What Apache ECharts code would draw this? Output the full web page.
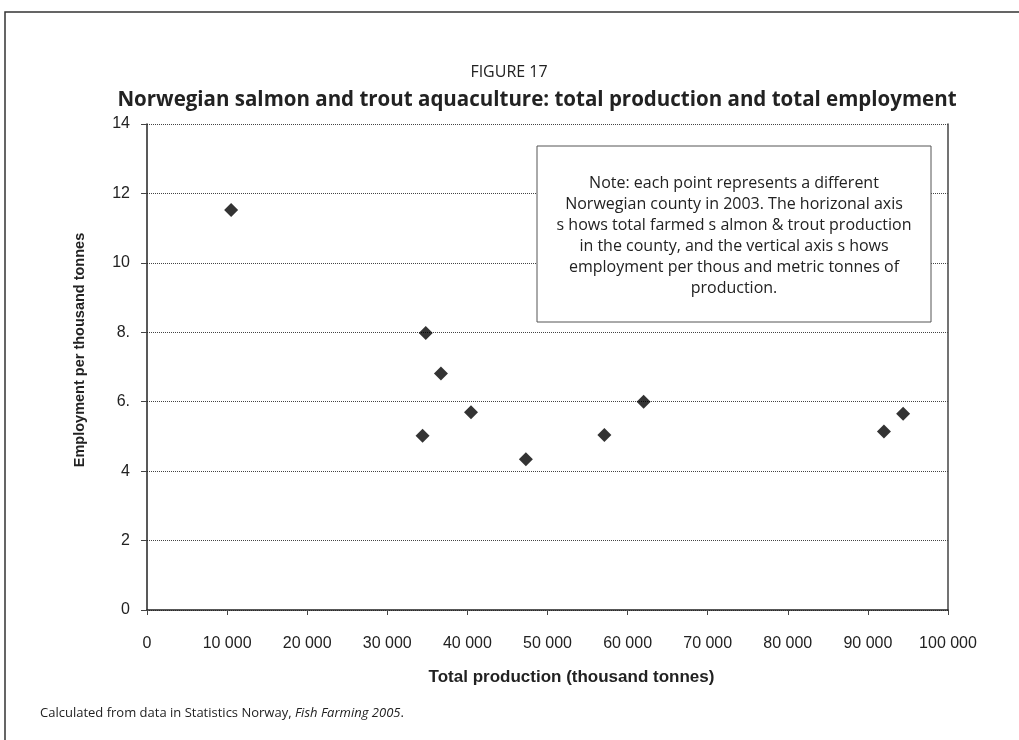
<!DOCTYPE html>
<html>
<head>
<meta charset="utf-8">
<script src="https://cdn.jsdelivr.net/npm/echarts@6/dist/echarts.min.js"></script>
<style>
  html, body { margin: 0; padding: 0; background: #fff; }
  #chart { width: 1019px; height: 740px; }
</style>
</head>
<body>
<div id="chart"></div>
<script>
// production (thousand tonnes) per county, 2003
var production = [10500, 34800, 36700, 40450, 34400, 47300, 57100, 62000, 92000, 94400];
// employment per thousand tonnes
var employment = [11.52, 7.98, 6.81, 5.70, 5.02, 4.34, 5.04, 6.00, 5.14, 5.65];
var yTickLabels = ['0', '2', '4', '6.', '8.', '10', '12', '14'];
var noteLines = [
    'Note: each point represents a different',
    'Norwegian county in 2003. The horizonal axis',
    's hows total farmed s almon & trout production',
    'in the county, and the vertical axis s hows',
    'employment per thous and metric tonnes of',
    'production.'
];

var points = production.map(function (x, i) { return [x, employment[i]]; });

var myChart = echarts.init(document.getElementById('chart'));
var axisFont = 'Liberation Sans, Arial, sans-serif';
var option = {
    animation: false,
    grid: { left: 147, right: 71, top: 124, bottom: 130 },
    xAxis: {
        type: 'value',
        min: 0,
        max: 100000,
        interval: 10000,
        name: 'Total production (thousand tonnes)',
        nameLocation: 'middle',
        nameGap: 59,
        nameTextStyle: { fontFamily: axisFont, fontWeight: 'bold', fontSize: 17, color: '#222', padding: [0, 0, 0, 48] },
        axisLine: { lineStyle: { color: '#222', width: 1.5 } },
        axisTick: { show: true, length: 5, lineStyle: { color: '#444' } },
        axisLabel: {
            margin: 26,
            fontFamily: axisFont,
            fontSize: 16,
            color: '#222',
            formatter: function (v) { return v >= 1000 ? Math.floor(v / 1000) + ' 000' : String(v); }
        },
        splitLine: { show: false }
    },
    yAxis: [
        {
            type: 'value',
            min: 0,
            max: 14,
            interval: 2,
            name: 'Employment per thousand tonnes',
            nameLocation: 'middle',
            nameGap: 60,
            nameTextStyle: { fontFamily: axisFont, fontWeight: 'bold', fontSize: 14.5, color: '#222', padding: [0, 0, 0, 34] },
            axisLine: { show: true, lineStyle: { color: '#222', width: 1.5 } },
            axisTick: { show: true, length: 6, lineStyle: { color: '#444' } },
            axisLabel: {
                margin: 17,
                fontFamily: axisFont,
                fontSize: 16,
                color: '#222',
                formatter: function (v) { return yTickLabels[Math.round(v / 2)]; }
            },
            splitLine: { show: true, lineStyle: { color: '#444', type: 'dotted', width: 1 } }
        },
        {
            type: 'value',
            position: 'right',
            min: 0,
            max: 14,
            interval: 2,
            axisLine: { show: true, lineStyle: { color: '#444', width: 1.5 } },
            axisTick: { show: false },
            axisLabel: { show: false },
            splitLine: { show: false }
        }
    ],
    series: [
        {
            type: 'scatter',
            data: points,
            symbol: 'diamond',
            symbolSize: 14,
            itemStyle: { color: '#000' }
        }
    ],
    graphic: [
        {
            type: 'rect',
            shape: { x: 5, y: 12, width: 1040, height: 760 },
            style: { fill: 'none', stroke: '#333', lineWidth: 1.5 },
            silent: true
        },
        {
            type: 'text',
            x: 509,
            y: 72,
            style: {
                text: 'FIGURE 17',
                fontFamily: 'Open Sans',
                fontSize: 16,
                fill: '#222',
                align: 'center',
                verticalAlign: 'middle'
            }
        },
        {
            type: 'text',
            x: 537,
            y: 100,
            style: {
                text: 'Norwegian salmon and trout aquaculture: total production and total employment',
                fontFamily: 'Open Sans',
                fontWeight: 'bold',
                fontSize: 20.5,
                fill: '#222',
                align: 'center',
                verticalAlign: 'middle'
            }
        },
        {
            type: 'rect',
            shape: { x: 537, y: 146, width: 394, height: 176 },
            style: { fill: '#fff', stroke: '#555', lineWidth: 1 },
            z: 10
        },
        {
            type: 'text',
            x: 734,
            y: 173,
            z: 11,
            style: {
                text: noteLines.join('\n'),
                fontFamily: 'Open Sans',
                fontSize: 16,
                lineHeight: 21,
                fill: '#222',
                align: 'center'
            }
        },
        {
            type: 'text',
            left: 40,
            top: 707,
            style: {
                text: '{n|Calculated from data in Statistics Norway, }{i|Fish Farming 2005}{n|.}',
                rich: {
                    n: { fontFamily: 'Open Sans', fontSize: 13, fill: '#222' },
                    i: { fontFamily: 'Open Sans', fontSize: 13, fontStyle: 'italic', fill: '#222' }
                }
            }
        }
    ]
};
myChart.setOption(option);
</script>
</body>
</html>
